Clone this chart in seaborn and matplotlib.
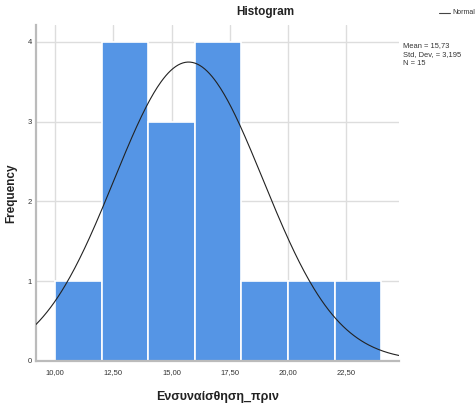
import numpy as np
import matplotlib
matplotlib.use('Agg')
import matplotlib.pyplot as plt
import seaborn as sns
from matplotlib.ticker import FuncFormatter

# Data
bin_edges = [10, 12, 14, 16, 18, 20, 22, 24]
counts = [1, 4, 3, 4, 1, 1, 1]
mean_val = 15.73
std_val = 3.195
n_val = 15
x_ticks = [10.0, 12.5, 15.0, 17.5, 20.0, 22.5]
y_ticks = [0, 1, 2, 3, 4]

bin_mids = [(a + b) / 2 for a, b in zip(bin_edges[:-1], bin_edges[1:])]

sns.set_style('white')
plt.rcParams['font.family'] = ['Liberation Sans', 'DejaVu Sans']

fig = plt.figure(figsize=(4.76, 4.08), dpi=100)
ax = fig.add_axes([0.0756, 0.1152, 0.7626, 0.8235])

# Histogram bars
sns.histplot(x=bin_mids, weights=counts, bins=bin_edges, ax=ax,
             color='#5595e5', alpha=1, edgecolor='white', linewidth=1.2)

xmin, xmax = 9.18, 24.76
ax.set_xlim(xmin, xmax)
ax.set_ylim(0, 4.21)

# Fitted normal curve (scaled to counts)
bw = bin_edges[1] - bin_edges[0]
xs = np.linspace(xmin, xmax, 300)
ys = n_val * bw * np.exp(-0.5 * ((xs - mean_val) / std_val) ** 2) / (std_val * np.sqrt(2 * np.pi))
ax.plot(xs, ys, color='#222222', linewidth=0.8, zorder=5)

# Grid, spines, ticks
ax.set_axisbelow(True)
ax.set_xticks(x_ticks)
ax.set_yticks(y_ticks)
ax.grid(True, color='#dddddd', linewidth=1.0)
for s in ['top', 'right']:
    ax.spines[s].set_visible(False)
for s in ['left', 'bottom']:
    ax.spines[s].set_color('#bbbbbb')
    ax.spines[s].set_linewidth(1.6)
ax.tick_params(axis='x', length=0, labelsize=5.5, labelcolor='#333333', pad=6)
ax.tick_params(axis='y', length=0, labelsize=5.5, labelcolor='#333333', pad=3)
ax.xaxis.set_major_formatter(FuncFormatter(lambda v, p: f'{v:.2f}'.replace('.', ',')))
ax.yaxis.set_major_formatter(FuncFormatter(lambda v, p: f'{int(v)}'))

ax.set_xlabel('Ενσυναίσθηση_πριν', fontsize=9, fontweight='bold', color='#222222')
ax.xaxis.set_label_coords(0.5, -0.09)
ax.set_ylabel('Frequency', fontsize=8.5, fontweight='bold', color='#222222')
ax.yaxis.set_label_coords(-0.052, 0.5)

fig.text(0.557, 1 - 12 / 408, 'Histogram', ha='center', va='center', fontsize=8.5,
         fontweight='bold', color='#222222')

# Legend and stats box outside the plot
fig.add_artist(plt.Line2D([439 / 476, 450 / 476], [1 - 13 / 408, 1 - 13 / 408],
                          color='#444444', linewidth=0.8))
fig.text(452 / 476, 1 - 13 / 408, 'Normal', ha='left', va='center', fontsize=5, color='#333333')
stats = f'Mean = {mean_val:.2f}'.replace('.', ',') + '\n' + \
        f'Std. Dev. = {std_val:.3f}'.replace('.', ',') + '\n' + f'N = {n_val}'
fig.text(403 / 476, 1 - 42 / 408, stats, ha='left', va='top', fontsize=5.4,
         color='#333333', linespacing=1.4)

fig.savefig('out.png', dpi=100)
